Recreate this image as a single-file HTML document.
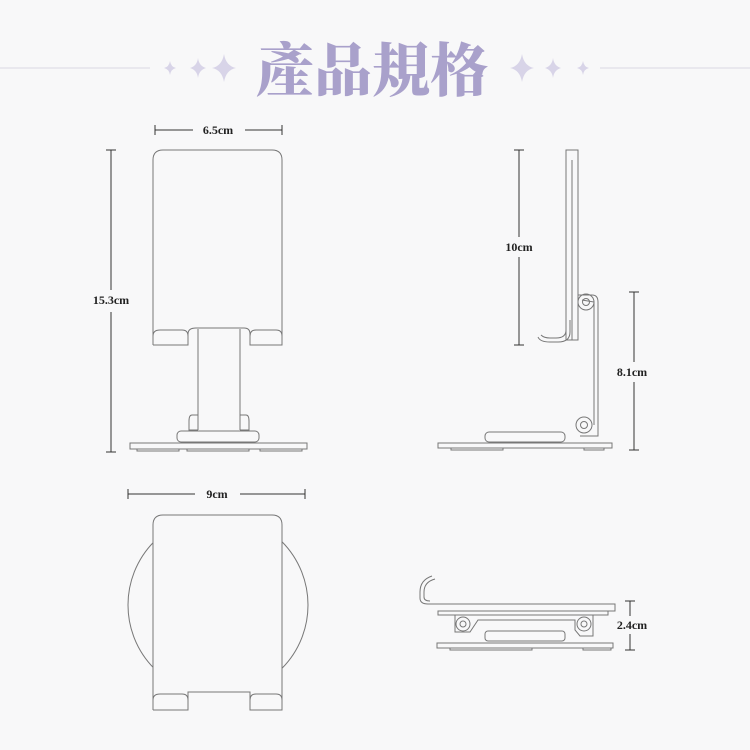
<!DOCTYPE html>
<html><head><meta charset="utf-8"><style>
body{margin:0;background:#f8f8f9;}
svg{display:block}
text{font-family:"Liberation Serif","Noto Serif CJK SC",serif;font-weight:bold;fill:#222;font-size:12px}
</style></head><body>
<svg width="750" height="750" viewBox="0 0 750 750">
<rect width="750" height="750" fill="#f8f8f9"/>
<!-- header -->
<line x1="0" y1="68" x2="150" y2="68" stroke="#e4e3ea" stroke-width="1.5"/>
<line x1="600" y1="68" x2="750" y2="68" stroke="#e4e3ea" stroke-width="1.5"/>
<g fill="#d8d4e8">
<path d="M164 68 Q169 67 170 61 Q171 67 176 68 Q171 69 170 75 Q169 69 164 68Z"/>
<path d="M190 68 Q197 66 198 58 Q199 66 206 68 Q199 70 198 78 Q197 70 190 68Z"/>
<path d="M212 68 Q222 66 224 54 Q226 66 236 68 Q226 70 224 82 Q222 70 212 68Z"/>
<path d="M510 68 Q520 66 522 54 Q524 66 534 68 Q524 70 522 82 Q520 70 510 68Z"/>
<path d="M545 68 Q552 66 553 58 Q554 66 561 68 Q554 70 553 78 Q552 70 545 68Z"/>
<path d="M577 68 Q582 67 583 61 Q584 67 589 68 Q584 69 583 75 Q582 69 577 68Z"/>
</g>
<text x="372" y="91" text-anchor="middle" style="font-size:58px;fill:#a9a1cb;font-family:'Noto Serif CJK SC','Noto Serif CJK TC',serif;font-weight:900">產品規格</text>

<g fill="none" stroke="#777" stroke-width="1">
<!-- front view -->
<path d="M153 345 V160 Q153 150 163 150 H272 Q282 150 282 160 V345"/>
<path d="M153 345 H188 V336 Q188 330 182 330 H160 Q153 330 153 336"/>
<path d="M250 345 H282 V336 Q282 330 276 330 H256 Q250 330 250 336Z"/>
<path d="M188 338 V334 Q188 328 196 328 H244 Q250 328 250 334 V338"/>
<line x1="198" y1="329" x2="198" y2="430"/><line x1="240" y1="329" x2="240" y2="430"/>
<path d="M198 415 H192 Q189 415 189 421 V430 H198"/><path d="M240 415 H246 Q249 415 249 421 V430 H240"/>
<rect x="177" y="431" width="82" height="11" rx="4"/>
<rect x="130" y="443" width="177" height="6"/>
<rect x="137" y="449" width="42" height="2"/><rect x="187" y="449" width="62" height="2"/><rect x="260" y="449" width="42" height="2"/>
<!-- side view -->
<rect x="566" y="150" width="12" height="190"/><line x1="572" y1="160" x2="572" y2="340"/>
<path d="M570 320 V332 Q570 342 558 342 H550 Q540 342 538 337" />
<path d="M566 320 V330 Q566 338 556 338 H550 Q544 338 541 335"/>
<path d="M578 295 H592 Q598 295 598 302 V436 H580"/>
<path d="M582 300 L594 302 V425"/>
<circle cx="586" cy="302" r="8"/><circle cx="586" cy="302" r="3.5"/>
<circle cx="584" cy="425" r="8"/><circle cx="584" cy="425" r="3.5"/>
<rect x="485" y="432" width="80" height="10" rx="4"/>
<rect x="438" y="443" width="174" height="5"/>
<rect x="451" y="448" width="52" height="2"/><rect x="584" y="448" width="20" height="2"/>
<!-- bottom view -->
<circle cx="218" cy="605" r="90"/>
<path d="M153 710 V525 Q153 515 163 515 H272 Q282 515 282 525 V710" fill="#f8f8f9"/>
<path d="M153 710 H188 V700 Q188 694 182 694 H160 Q153 694 153 700"/>
<path d="M250 710 H282 V700 Q282 694 276 694 H256 Q250 694 250 700Z"/>
<path d="M188 700 V692 H250 V700"/>
<!-- folded view -->
<path d="M432 576 Q420 580 420 592 V598 Q420 604 428 604 H615 V611 H438"/>
<path d="M435 579 Q424 582 424 592 V597 Q424 601 430 601"/>
<rect x="438" y="611" width="170" height="4"/>
<path d="M455 615 V632 H470 L478 620 H575 V630 L580 636 H593 V615"/>
<circle cx="463" cy="624" r="7"/><circle cx="463" cy="624" r="3"/>
<circle cx="584" cy="624" r="7"/><circle cx="584" cy="624" r="3"/>
<rect x="485" y="631" width="80" height="10" rx="3"/>
<rect x="437" y="643" width="176" height="5"/>
<rect x="450" y="648" width="82" height="2"/><rect x="583" y="648" width="28" height="2"/>
</g>
<!-- dimensions -->
<g stroke="#333" stroke-width="1">
<line x1="155" y1="130" x2="193" y2="130"/><line x1="245" y1="130" x2="282" y2="130"/>
<line x1="155" y1="125" x2="155" y2="135"/><line x1="282" y1="125" x2="282" y2="135"/>
<line x1="111" y1="150" x2="111" y2="290"/><line x1="111" y1="312" x2="111" y2="452"/>
<line x1="106" y1="150" x2="116" y2="150"/><line x1="106" y1="452" x2="116" y2="452"/>
<line x1="519" y1="150" x2="519" y2="237"/><line x1="519" y1="257" x2="519" y2="345"/>
<line x1="514" y1="150" x2="524" y2="150"/><line x1="514" y1="345" x2="524" y2="345"/>
<line x1="634" y1="292" x2="634" y2="362"/><line x1="634" y1="382" x2="634" y2="450"/>
<line x1="629" y1="292" x2="639" y2="292"/><line x1="629" y1="450" x2="639" y2="450"/>
<line x1="128" y1="494" x2="195" y2="494"/><line x1="240" y1="494" x2="305" y2="494"/>
<line x1="128" y1="489" x2="128" y2="499"/><line x1="305" y1="489" x2="305" y2="499"/>
<line x1="630" y1="601" x2="630" y2="616"/><line x1="630" y1="634" x2="630" y2="650"/>
<line x1="625" y1="601" x2="635" y2="601"/><line x1="625" y1="650" x2="635" y2="650"/>
</g>
<text x="218" y="134" text-anchor="middle">6.5cm</text>
<text x="111" y="304" text-anchor="middle">15.3cm</text>
<text x="519" y="251" text-anchor="middle">10cm</text>
<text x="632" y="376" text-anchor="middle">8.1cm</text>
<text x="217" y="498" text-anchor="middle">9cm</text>
<text x="632" y="629" text-anchor="middle">2.4cm</text>
</svg>
</body></html>
